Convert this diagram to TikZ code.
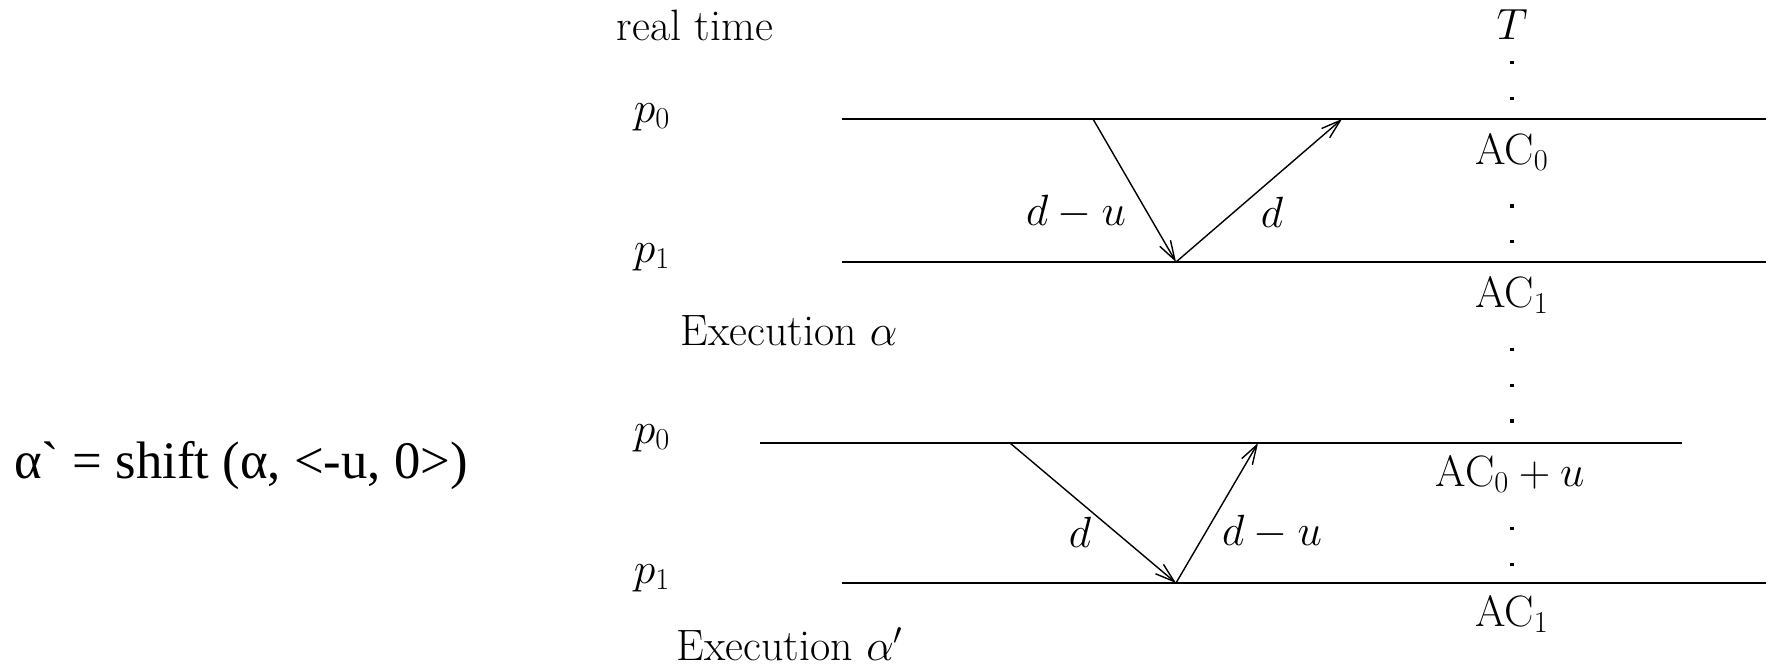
\documentclass[tikz,border=0pt]{standalone}
\usepackage{fontspec}
\newfontfamily\timesfont{Liberation Serif}
\usetikzlibrary{arrows.meta}
\begin{document}
\begin{tikzpicture}[x=0.02cm,y=-0.02cm,
  lbl/.style={font=\fontsize{25}{29}\selectfont, inner sep=1pt},
  aclbl/.style={lbl, fill=white, inner sep=4pt},
  proc/.style={line width=1.1pt},
  msg/.style={line width=0.8pt, -{Straight Barb[length=11pt,width=7pt]}},
  dotline/.style={line width=1.8pt, dash pattern=on 1.8pt off 18.6pt}]
\useasboundingbox (0,0) rectangle (1773,667);

% left formula
\node[font=\timesfont\fontsize{30}{36}\selectfont, inner sep=0pt] (formula) at (241,466) {α` = shift (α, <-u, 0>)};

% header
\node[lbl] (rt) at (695,25) {real time};
\node[lbl] (T) at (1512,25) {$T$};

% process lines, execution alpha
\coordinate (a0s) at (842,119);  \coordinate (a0e) at (1766,119);
\coordinate (a1s) at (842,262);  \coordinate (a1e) at (1766,262);
% execution alpha'
\coordinate (b0s) at (760,443);  \coordinate (b0e) at (1682,443);
\coordinate (b1s) at (842,583);  \coordinate (b1e) at (1766,583);

% dotted T line
\coordinate (Ttop) at (1512,61);
\coordinate (Tbot) at (1512,575);
\draw[dotline] (Ttop) -- (Tbot);

\draw[proc] (a0s) -- (a0e);
\draw[proc] (a1s) -- (a1e);
\draw[proc] (b0s) -- (b0e);
\draw[proc] (b1s) -- (b1e);

% process labels
\node[lbl] (p0a) at (652,117) {$p_0$};
\node[lbl] (p1a) at (652,257) {$p_1$};
\node[lbl] (exa) at (789,331) {Execution $\alpha$};
\node[lbl] (p0b) at (652,438) {$p_0$};
\node[lbl] (p1b) at (652,578) {$p_1$};
\node[lbl] (exb) at (790,644) {Execution $\alpha'$};

% AC labels (drawn over the dotted line)
\node[aclbl] (ac0a) at (1512,152) {AC$_0$};
\node[aclbl] (ac1a) at (1512,295) {AC$_1$};
\node[aclbl] (ac0b) at (1510,474) {AC$_0+u$};
\node[aclbl] (ac1b) at (1512,614) {AC$_1$};

% messages, execution alpha
\coordinate (A) at (1093,119);
\coordinate (B) at (1176,262);
\coordinate (C) at (1342,119);
\draw[msg] (A) -- (B);
\draw[msg] (B) -- (C);
\node[lbl] (la1) at (1076,212) {$d-u$};
\node[lbl] (la2) at (1272,212) {$d$};

% messages, execution alpha'
\coordinate (D) at (1010,443);
\coordinate (E) at (1176,583);
\coordinate (F) at (1258,443);
\draw[msg] (D) -- (E);
\draw[msg] (E) -- (F);
\node[lbl] (lb1) at (1080,532) {$d$};
\node[lbl] (lb2) at (1272,532) {$d-u$};
\end{tikzpicture}
\end{document}
